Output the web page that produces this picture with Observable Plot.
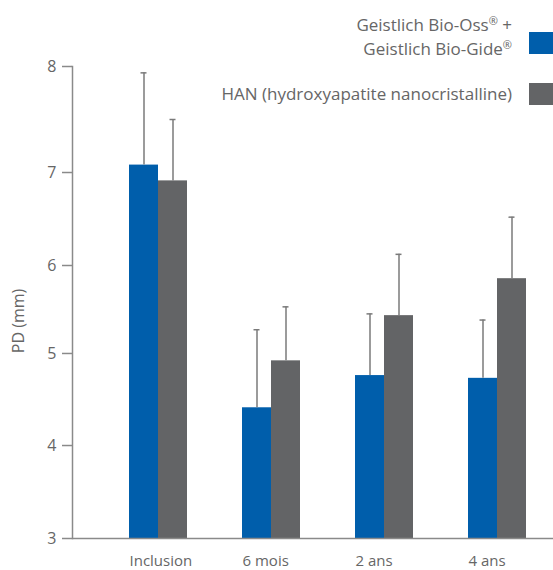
<!DOCTYPE html>
<html>
<head>
<meta charset="utf-8">
<script src="https://cdn.jsdelivr.net/npm/d3@7"></script>
<script src="https://cdn.jsdelivr.net/npm/@observablehq/plot@0.6"></script>
<style>
  body { margin: 0; background: #fff; font-family: "Open Sans", sans-serif; }
  #wrap { position: relative; width: 553px; height: 570px; overflow: hidden; }
  .lg { position: absolute; color: #666; font-size: 17px; line-height: 22px; text-align: right; white-space: nowrap; }
  .lg .r { font-size: 11px; position: relative; top: -6px; }
  .sw { position: absolute; width: 24px; height: 22px; }
  .ylab { position: absolute; left: 18px; top: 321px; transform: translate(-50%, -50%) rotate(-90deg);
          color: #666; font-size: 16px; white-space: nowrap; line-height: 1; }
</style>
</head>
<body>
<div id="wrap"></div>
<script>
// ---- data ----
const categories = ["Inclusion", "6 mois", "2 ans", "4 ans"];
const seriesNames = ["Geistlich Bio-Oss® + Geistlich Bio-Gide®", "HAN (hydroxyapatite nanocristalline)"];
const bioOssMean  = [7.07, 4.41, 4.76, 4.73];
const bioOssUpper = [7.94, 5.27, 5.45, 5.38];
const hanMean     = [6.91, 4.92, 5.43, 5.85];
const hanUpper    = [7.50, 5.53, 6.12, 6.52];
const yTicks = [3, 4, 5, 6, 7, 8];
const yLabel = "PD (mm)";
const colors = ["#005eab", "#636466"];

const bioRows = categories.map((c, i) => ({cat: c, mean: bioOssMean[i], upper: bioOssUpper[i]}));
const hanRows = categories.map((c, i) => ({cat: c, mean: hanMean[i], upper: hanUpper[i]}));

// the reference axis spaces its ticks slightly unevenly; follow it piecewise
const tickStretch = d3.scaleLinear().domain(yTicks).range([3, 3.985, 4.96, 5.892, 6.877, 8]);

const errColor = "#7a7a7a";
const axisColor = "#8a8a8a";

const chart = Plot.plot({
  width: 553,
  height: 570,
  marginLeft: 72,
  marginRight: 0,
  marginTop: 66,
  marginBottom: 32,
  style: {fontFamily: "Open Sans, sans-serif", background: "#fff", overflow: "visible"},
  x: {type: "band", domain: categories, paddingInner: 0.49, paddingOuter: 0.36, align: 0.67, label: null},
  y: {domain: [3, 8], transform: tickStretch, label: null},
  marks: [
    Plot.barY(bioRows, {x: "cat", y1: 3, y2: "mean", fill: colors[0], insetRight: 29}),
    Plot.barY(hanRows, {x: "cat", y1: 3, y2: "mean", fill: colors[1], insetLeft: 29}),
    Plot.ruleX(bioRows, {x: "cat", y1: "mean", y2: "upper", dx: -14.5, stroke: errColor, strokeWidth: 1.5}),
    Plot.ruleX(hanRows, {x: "cat", y1: "mean", y2: "upper", dx: 14.5, stroke: errColor, strokeWidth: 1.5}),
    Plot.tickY(bioRows, {x: "cat", y: "upper", insetLeft: 11.5, insetRight: 40.5, stroke: errColor, strokeWidth: 1.5}),
    Plot.tickY(hanRows, {x: "cat", y: "upper", insetLeft: 40.5, insetRight: 11.5, stroke: errColor, strokeWidth: 1.5}),
    Plot.ruleY([3], {stroke: axisColor, strokeWidth: 1.5}),
    Plot.frame({anchor: "left", stroke: axisColor, strokeWidth: 1.5}),
    Plot.axisY({
      ticks: yTicks.map(v => tickStretch(v)),
      tickFormat: d => String(Math.round(tickStretch.invert(d))),
      tickSize: 10, tickPadding: 6, fontSize: 16, fill: "#666", stroke: axisColor, strokeWidth: 1.5, label: null
    }),
    Plot.axisX({tickSize: 0, tickPadding: 17, textAnchor: "start", dx: -29, fontSize: 15, fill: "#666", label: null})
  ]
});

const wrap = document.getElementById("wrap");
wrap.appendChild(chart);

// y axis title
const yl = document.createElement("div");
yl.className = "ylab";
yl.textContent = yLabel;
wrap.appendChild(yl);

// legend
function addLegend(html, top, color, swTop) {
  const t = document.createElement("div");
  t.className = "lg";
  t.style.right = "41px";
  t.style.top = top + "px";
  t.innerHTML = html;
  wrap.appendChild(t);
  const s = document.createElement("div");
  s.className = "sw";
  s.style.left = "529px";
  s.style.top = swTop + "px";
  s.style.background = color;
  wrap.appendChild(s);
}
const sup = s => s.replace(/®/g, '<span class="r">®</span>');
addLegend(sup("Geistlich Bio-Oss® +") + "<br>" + sup("Geistlich Bio-Gide®"), 14, colors[0], 32);
addLegend(seriesNames[1], 83, colors[1], 83);
</script>
</body>
</html>
